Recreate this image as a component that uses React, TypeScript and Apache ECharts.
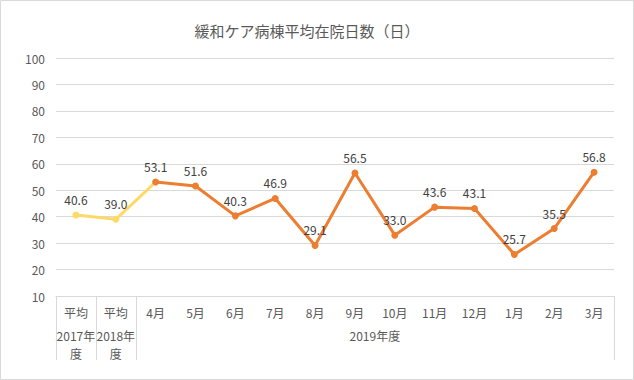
import React, { useEffect, useRef } from "react";
import * as echarts from "echarts";

const TITLE = "緩和ケア病棟平均在院日数（日）";
const avgLabels = ["平均", "平均"];
const avgYears = ["2017年", "2018年"];
const avgValues = [40.6, 39.0];
const monthLabels = ["4月", "5月", "6月", "7月", "8月", "9月", "10月", "11月", "12月", "1月", "2月", "3月"];
const monthValues = [53.1, 51.6, 40.3, 46.9, 29.1, 56.5, 33.0, 43.6, 43.1, 25.7, 35.5, 56.8];
const fiscalYear2019 = "2019年度";
const yTicks = { min: 10, max: 100, interval: 10 };

const FONT = '"Noto Sans CJK JP", "Noto Sans", sans-serif';
const YELLOW = "#FFD966";
const ORANGE = "#ED7D31";
const GRID_COLOR = "#D9D9D9";

export default function App() {
  const ref = useRef<HTMLDivElement>(null);
  useEffect(() => {
    if (!ref.current) return;
    const chart = echarts.init(ref.current, undefined, { renderer: "svg" });
    const categories = [...avgLabels, ...monthLabels];
    const nAvg = avgValues.length;
    const yellowData: any[] = categories.map((_, i) => {
      if (i < nAvg) return avgValues[i];
      if (i === nAvg) return { value: monthValues[0], symbol: "none", label: { show: false } };
      return "-";
    });
    const orangeData: any[] = categories.map((_, i) => (i < nAvg ? "-" : monthValues[i - nAvg]));
    const labelStyle = {
      show: true,
      position: "top",
      distance: 6,
      color: "#404040",
      fontSize: 12,
      fontFamily: FONT,
      formatter: (p: any) => Number(p.value).toFixed(1),
    };
    chart.setOption({
      animation: false,
      grid: { left: 56, right: 20, top: 58, bottom: 84, containLabel: false },
      xAxis: {
        type: "category",
        data: categories,
        boundaryGap: true,
        axisLine: { show: true, lineStyle: { color: GRID_COLOR, width: 1 } },
        axisTick: { show: false },
        axisLabel: {
          interval: 0,
          margin: 4,
          color: "#595959",
          fontFamily: FONT,
          fontSize: 12,
          formatter: (v: string, i: number) => {
            if (i < nAvg) return `{a|${v}}\n{b|${avgYears[i]}}\n{c|度}`;
            return `{a|${v}}`;
          },
          rich: {
            a: { lineHeight: 24, fontSize: 12, fontFamily: FONT, color: "#595959" },
            b: { lineHeight: 22, fontSize: 12, fontFamily: FONT, color: "#595959" },
            c: { lineHeight: 14, fontSize: 12, fontFamily: FONT, color: "#595959" },
          },
        },
      },
      yAxis: {
        type: "value",
        min: yTicks.min,
        max: yTicks.max,
        interval: yTicks.interval,
        axisLine: { show: false },
        axisTick: { show: false },
        axisLabel: { color: "#595959", fontSize: 12, fontFamily: FONT, margin: 11 },
        splitLine: { lineStyle: { color: GRID_COLOR, width: 1 } },
      },
      series: [
        {
          type: "line",
          data: yellowData,
          lineStyle: { color: YELLOW, width: 3 },
          itemStyle: { color: YELLOW },
          symbol: "circle",
          symbolSize: 7,
          connectNulls: false,
          label: labelStyle,
          z: 2,
        },
        {
          type: "line",
          data: orangeData,
          lineStyle: { color: ORANGE, width: 3 },
          itemStyle: { color: ORANGE },
          symbol: "circle",
          symbolSize: 7,
          label: labelStyle,
          z: 3,
        },
      ],
    });

    // separator lines and group labels from the axis scale
    const c0 = chart.convertToPixel({ xAxisIndex: 0 }, 0) as number;
    const c1 = chart.convertToPixel({ xAxisIndex: 0 }, 1) as number;
    const half = (c1 - c0) / 2;
    const yBase = chart.convertToPixel({ yAxisIndex: 0 }, yTicks.min) as number;
    const lastIdx = categories.length - 1;
    const cLast = chart.convertToPixel({ xAxisIndex: 0 }, lastIdx) as number;
    const bottom = yBase + 64;
    const boundaries = [c0 - half];
    for (let i = 0; i < nAvg; i++) {
      boundaries.push((chart.convertToPixel({ xAxisIndex: 0 }, i) as number) + half);
    }
    boundaries.push(cLast + half);
    const monthStart = boundaries[nAvg];
    const monthEnd = cLast + half;
    const graphics: any[] = [
      {
        type: "rect",
        shape: { x: 0.5, y: 0.5, width: 633, height: 379 },
        style: { fill: "none", stroke: GRID_COLOR, lineWidth: 1 },
        silent: true,
      },
      {
        type: "text",
        x: 307,
        y: 30,
        style: {
          text: TITLE,
          fill: "#595959",
          font: `15px ${FONT}`,
          textAlign: "center",
          textVerticalAlign: "middle",
        },
      },
      {
        type: "text",
        x: (monthStart + monthEnd) / 2,
        y: 335,
        style: {
          text: fiscalYear2019,
          fill: "#595959",
          font: `12px ${FONT}`,
          textAlign: "center",
          textVerticalAlign: "middle",
        },
      },
      ...boundaries.map((bx) => ({
        type: "line",
        shape: { x1: Math.round(bx) + 0.5, y1: yBase, x2: Math.round(bx) + 0.5, y2: bottom },
        style: { stroke: GRID_COLOR, lineWidth: 1 },
        silent: true,
      })),
    ];
    chart.setOption({ graphic: graphics });
    return () => chart.dispose();
  }, []);
  return (
    <div
      ref={ref}
      style={{ position: "fixed", left: 0, top: 0, width: 634, height: 380, background: "#fff" }}
    />
  );
}
